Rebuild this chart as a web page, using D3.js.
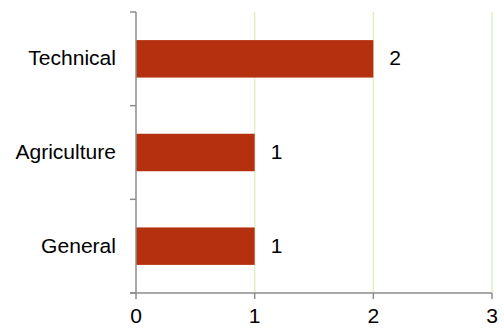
<!DOCTYPE html>
<html><head><meta charset="utf-8">
<script src="https://cdn.jsdelivr.net/npm/d3@7"></script>
<style>body{margin:0;background:#fff}svg{display:block}text{font-family:"Liberation Sans",Arial,sans-serif;font-size:19.5px;fill:#000}</style>
</head><body>
<script>
const categories = ["Technical", "Agriculture", "General"];
const values = [2, 1, 1];
const xTicks = [0, 1, 2, 3];

const W = 504, H = 329;
const svg = d3.select("body").append("svg").attr("width", W).attr("height", H);
const x = d3.scaleLinear().domain([0, 3]).range([136, 492]);
const y = d3.scaleBand().domain(categories).range([12, 293]).paddingInner(0.6).paddingOuter(0.3);
const sx = 1.08;
const place = (px, py) => `translate(${px},${py}) scale(${sx},1)`;

// gridlines
svg.selectAll(".grid").data(xTicks.slice(1)).join("line")
  .attr("x1", d => x(d)).attr("x2", d => x(d)).attr("y1", 12).attr("y2", 293)
  .attr("stroke", "#dfefc8").attr("stroke-width", 1.5);

// bars
svg.selectAll(".bar").data(categories).join("rect")
  .attr("x", x(0)).attr("y", d => y(d))
  .attr("width", (d, i) => x(values[i]) - x(0)).attr("height", y.bandwidth())
  .attr("fill", "#b5300e");

// value labels
svg.selectAll(".val").data(categories).join("text")
  .attr("transform", (d, i) => place(x(values[i]) + 16, y(d) + y.bandwidth() / 2 + 6.5))
  .text((d, i) => values[i]);

const axisColor = "#8c8c8c";
// y axis line and ticks
svg.append("line").attr("x1", x(0)).attr("x2", x(0)).attr("y1", 12).attr("y2", 293)
  .attr("stroke", axisColor).attr("stroke-width", 1.5);
const step = (293 - 12) / categories.length;
svg.selectAll(".ytick").data(d3.range(categories.length + 1)).join("line")
  .attr("x1", x(0) - 6).attr("x2", x(0)).attr("y1", d => 12 + d * step).attr("y2", d => 12 + d * step)
  .attr("stroke", axisColor).attr("stroke-width", 1.5);
// category labels
svg.selectAll(".cat").data(categories).join("text")
  .attr("transform", d => place(116, y(d) + y.bandwidth() / 2 + 6.5)).attr("text-anchor", "end")
  .text(d => d);

// x axis
svg.append("line").attr("x1", x(0) - 6).attr("x2", x(3)).attr("y1", 293).attr("y2", 293)
  .attr("stroke", axisColor).attr("stroke-width", 1.5);
svg.selectAll(".xtick").data(xTicks).join("line")
  .attr("x1", d => x(d)).attr("x2", d => x(d)).attr("y1", 293).attr("y2", 299)
  .attr("stroke", axisColor).attr("stroke-width", 1.5);
svg.selectAll(".xlab").data(xTicks).join("text")
  .attr("transform", d => place(x(d), 323)).attr("text-anchor", "middle")
  .text(d => d);
</script>
</body></html>
